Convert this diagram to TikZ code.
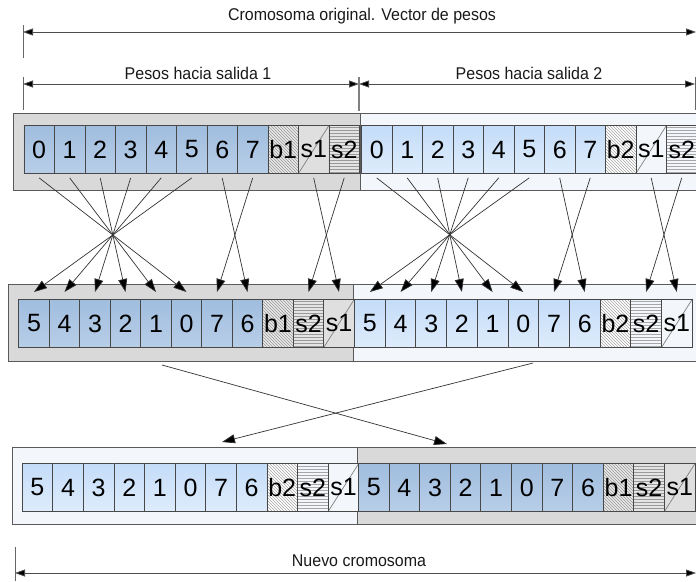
\documentclass[tikz,border=0pt]{standalone}
\usepackage{fontspec}
\setmainfont{Liberation Sans}
\usetikzlibrary{arrows.meta,patterns}
\definecolor{boxdark}{RGB}{217,217,217}
\definecolor{boxlight}{RGB}{243,247,252}
\definecolor{celldarkA}{RGB}{160,189,222}
\definecolor{celldarkB}{RGB}{184,206,232}
\definecolor{celllightA}{RGB}{196,220,248}
\definecolor{celllightB}{RGB}{222,236,252}
\definecolor{edge}{RGB}{72,72,72}
\tikzset{
  cell/.style={draw=edge, line width=0.9pt, minimum width=#1, minimum height=48pt,
    inner sep=0pt, anchor=north west, font=\fontsize{25}{25}\selectfont},
  cell/.default=30.5pt,
  group/.style={draw=edge!90, line width=1pt, minimum width=#1, minimum height=77pt,
    inner sep=0pt, anchor=north west},
  dark tone/.style={
    num/.style={top color=celldarkA, bottom color=celldarkB},
    bcell/.style={preaction={fill=boxdark!60}, pattern=north west lines, pattern color=gray!80},
    sone/.style={fill=boxdark!85, path picture={\draw[gray, line width=0.7pt]
      (path picture bounding box.south west) -- (path picture bounding box.north east);}},
    stwo/.style={preaction={fill=boxdark!70}, pattern=horizontal lines, pattern color=gray!80}},
  light tone/.style={
    num/.style={top color=celllightA, bottom color=celllightB},
    bcell/.style={preaction={fill=white}, pattern=north west lines, pattern color=gray!70},
    sone/.style={fill=boxlight, path picture={\draw[gray, line width=0.7pt]
      (path picture bounding box.south west) -- (path picture bounding box.north east);}},
    stwo/.style={preaction={fill=boxlight}, pattern=horizontal lines, pattern color=gray!70}},
  conn/.style={draw=black!80, line width=0.7pt, -{Triangle[length=13pt,width=9pt,fill=black]}},
  dimline/.style={draw=black!70, line width=0.8pt,
    {Triangle[length=10pt,width=7pt,fill=black]}-{Triangle[length=10pt,width=7pt,fill=black]}},
  tick/.style={draw=black!60, line width=1pt},
  lbl/.style={font=\fontsize{17}{17}\selectfont, text=black!90, inner sep=0pt, xscale=0.94}
}
\def\toprowA{0/num,1/num,2/num,3/num,4/num,5/num,6/num,7/num,b1/bcell,s1/sone,s2/stwo}
\def\toprowB{0/num,1/num,2/num,3/num,4/num,5/num,6/num,7/num,b2/bcell,s1/sone,s2/stwo}
\def\swaprowA{5/num,4/num,3/num,2/num,1/num,0/num,7/num,6/num,b1/bcell,s2/stwo,s1/sone}
\def\swaprowB{5/num,4/num,3/num,2/num,1/num,0/num,7/num,6/num,b2/bcell,s2/stwo,s1/sone}

\begin{document}
\begin{tikzpicture}[x=1pt,y=-1pt]
  \useasboundingbox (0,0) rectangle (696,581);

  \node[lbl] (orig) at (362,16) {Cromosoma original. Vector de pesos};
  \coordinate (o0) at (23,32);
  \coordinate (o1) at (696,32);
  \draw[tick] (23,25) -- (23,58);
  \draw[dimline] (o0) -- (o1);

  \node[lbl] (out1) at (198,73) {Pesos hacia salida 1};
  \node[lbl] (out2) at (529,73) {Pesos hacia salida 2};
  \coordinate (p0) at (23,84);
  \coordinate (p1) at (359,84);
  \coordinate (p2) at (695,84);
  \draw[tick] (23,77) -- (23,110);
  \draw[tick] (695,77) -- (695,110);
  \draw[dimline] (p0) -- (p1);
  \draw[dimline] (p1) -- (p2);
  \draw[tick, draw=black!50, line width=2.5pt] (359,77) -- (359,111);

  % cromosoma original
  \node[group=340pt, fill=boxlight] (tR) at (360,113) {};
  \node[group=347pt, fill=boxdark] (tL) at (13,113) {};
  \begin{scope}[dark tone]
    \foreach \lab/\sty [count=\i from 0] in \toprowA
      \node[cell,\sty] (tl\i) at ({23.5+30.5*\i},125) {\lab};
  \end{scope}
  \begin{scope}[light tone]
    \foreach \lab/\sty [count=\i from 0] in \toprowB
      \node[cell,\sty] (tr\i) at ({361+30.5*\i},125) {\lab};
  \end{scope}

  % pesos reordenados
  \node[group=347pt, fill=boxlight] (mR) at (353,284) {};
  \node[group=345pt, fill=boxdark] (mL) at (8,284) {};
  \begin{scope}[dark tone]
    \foreach \lab/\sty [count=\i from 0] in \swaprowA
      \node[cell,\sty] (ml\i) at ({18.3+30.5*\i},299) {\lab};
  \end{scope}
  \begin{scope}[light tone]
    \foreach \lab/\sty [count=\i from 0] in \swaprowB
      \node[cell=30.7pt,\sty] (mr\i) at ({354+30.7*\i},299) {\lab};
  \end{scope}

  \foreach \a/\b in {0/5,1/4,2/3,3/2,4/1,5/0,6/7,7/6,9/10,10/9} {
    \draw[conn] ([yshift=-4pt]tl\a.south) -- ([yshift=7pt]ml\b.north);
    \draw[conn] ([yshift=-4pt]tr\a.south) -- ([yshift=7pt]mr\b.north);
  }

  % nuevo cromosoma
  \node[group=346pt, fill=boxlight] (bL) at (12,447) {};
  \node[group=343pt, fill=boxdark] (bR) at (357,447) {};
  \begin{scope}[light tone]
    \foreach \lab/\sty [count=\i from 0] in \swaprowB
      \node[cell=30.6pt,\sty] (bl\i) at ({21.7+30.6*\i},463) {\lab};
  \end{scope}
  \begin{scope}[dark tone]
    \foreach \lab/\sty [count=\i from 0] in \swaprowA
      \node[cell=30.6pt,\sty] (br\i) at ({358+30.6*\i},463) {\lab};
  \end{scope}

  \draw[conn] ([xshift=154pt,yshift=-3pt]mL.south west) -- ([xshift=90pt,yshift=3pt]bR.north west);
  \draw[conn] ([xshift=180pt,yshift=-1pt]mR.south west) -- ([xshift=210pt,yshift=5pt]bL.north west);

  \node[lbl] (nuevo) at (359,561) {Nuevo cromosoma};
  \coordinate (n0) at (15,573);
  \coordinate (n1) at (696,573);
  \draw[tick] (15,547) -- (15,581);
  \draw[dimline] (n0) -- (n1);
\end{tikzpicture}
\end{document}
